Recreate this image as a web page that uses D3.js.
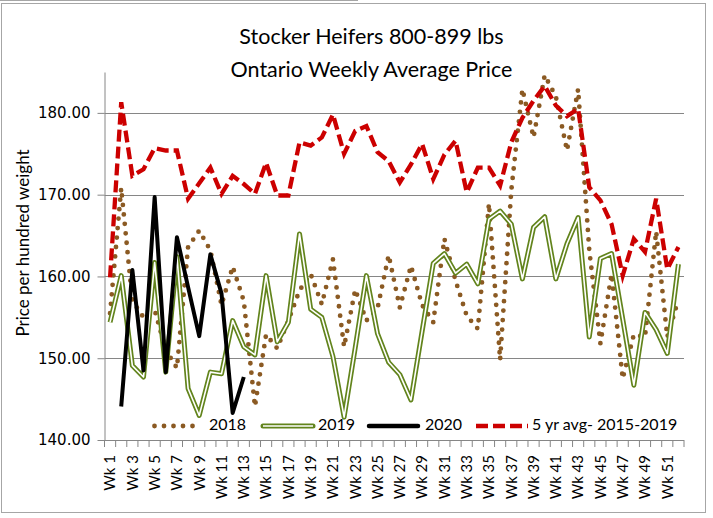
<!DOCTYPE html>
<html lang="en">
<head>
    <meta charset="UTF-8">
    <title>Stocker Heifers 800-899 lbs</title>
    <script src="https://d3js.org/d3.v7.min.js"></script>
    <style>
        body { margin: 0; background: #fff; }
        svg { font-family: Lato, "Open Sans", sans-serif; }
        .grid { stroke: #868686; stroke-width: 1px; }
        .axis path, .axis line { stroke: #868686; }
        .axis text { fill: #000; }
    </style>
</head>
<body>
    <svg width="713" height="518"></svg>

    <script>
        // weeks on the x axis
        const weeks = d3.range(1, 53).map(i => 'Wk ' + i);

        // weekly prices ($/cwt)
        const y2018 = [155.5, 170.8, 157.0, 155.0, 155.9, 151.0, 148.8, 163.6, 165.6, 163.2,
                       156.5, 161.2, 157.0, 144.1, 152.9, 151.2, 154.6, 158.3, 160.3, 156.6,
                       162.1, 151.4, 158.4, 154.6, 156.1, 162.6, 156.2, 161.3, 156.5, 154.4,
                       164.6, 159.5, 155.2, 153.6, 168.9, 149.8, 170.5, 182.9, 177.0, 184.6,
                       182.0, 175.4, 182.9, 163.2, 151.8, 160.3, 147.5, 152.9, 152.6, 165.5,
                       152.6, 157.2];
        const y2019 = [154.4, 160.1, 149.1, 147.7, 161.7, 148.3, 162.4, 146.3, 143.0, 148.3,
                       148.1, 154.6, 151.4, 150.4, 160.1, 152.0, 154.4, 165.2, 156.0, 155.0,
                       150.2, 142.8, 151.3, 160.1, 153.0, 149.5, 148.0, 144.9, 153.3, 161.6,
                       162.8, 160.4, 161.5, 159.1, 167.0, 168.0, 166.4, 159.7, 166.0, 167.3,
                       159.7, 164.0, 167.2, 152.6, 162.2, 162.8, 154.8, 146.7, 155.6, 153.5,
                       150.6, 161.5];
        // no sale in week 1 of 2020
        const y2020 = [null, 144.1, 160.8, 148.5, 169.7, 148.3, 164.8, 158.7, 152.7, 162.7,
                       157.9, 143.3, 147.7];
        const yAvg = [159.9, 181.3, 172.3, 173.1, 175.7, 175.4, 175.4, 169.5, 171.4, 173.3,
                      170.1, 172.3, 171.3, 170.1, 173.9, 169.9, 169.9, 176.4, 176.0, 177.0,
                      179.8, 175.0, 177.8, 178.4, 175.2, 174.1, 171.5, 173.7, 176.2, 171.9,
                      174.9, 176.6, 170.3, 173.3, 173.3, 171.1, 176.4, 179.4, 181.5, 183.3,
                      180.9, 179.6, 180.5, 170.9, 169.3, 166.4, 160.1, 164.6, 163.0, 169.5,
                      160.9, 163.6];

        const yTicks = [140, 150, 160, 170, 180];
        const seriesNames = ['2018', '2019', '2020', '5 yr avg- 2015-2019'];

        const svg = d3.select('svg');

        // outer frame
        svg.append('rect')
            .attr('x', 1.5).attr('y', 3.5)
            .attr('width', 704).attr('height', 509)
            .attr('fill', 'none').attr('stroke', '#a6a6a6');
        svg.append('line')
            .attr('x1', 0).attr('x2', 358).attr('y1', 0.5).attr('y2', 0.5)
            .attr('stroke', '#a6a6a6');

        const plotLeft = 104.5, plotRight = 684, plotTop = 72, plotBottom = 440;

        const x = d3.scaleBand().domain(weeks).range([plotLeft, plotRight]);
        const y = d3.scaleLinear().domain([140, 185]).range([plotBottom, plotTop]);
        const cx = d => x(d) + x.bandwidth() / 2;

        // gridlines
        svg.append('g').selectAll('line')
            .data(yTicks.slice(1))
            .enter().append('line')
            .attr('class', 'grid')
            .attr('x1', plotLeft).attr('x2', plotRight)
            .attr('y1', d => Math.round(y(d)) + 0.5)
            .attr('y2', d => Math.round(y(d)) + 0.5);

        // y axis
        const yAxis = svg.append('g')
            .attr('class', 'axis')
            .attr('transform', `translate(${plotLeft},0)`)
            .call(d3.axisLeft(y).tickValues(yTicks).tickFormat(d3.format('.2f'))
                .tickSize(7).tickPadding(7).tickSizeOuter(0));
        yAxis.selectAll('text')
            .style('font-family', '"DejaVu Sans", sans-serif')
            .style('font-size', '15px');

        // x axis: line, a tick at every band edge, labels on odd weeks
        const xg = svg.append('g').attr('class', 'axis');
        xg.append('line')
            .attr('x1', plotLeft).attr('x2', plotRight)
            .attr('y1', plotBottom + 0.5).attr('y2', plotBottom + 0.5);
        xg.selectAll('.tk')
            .data(weeks.concat(['end']))
            .enter().append('line')
            .attr('class', 'tk')
            .attr('x1', d => d === 'end' ? plotRight : x(d))
            .attr('x2', d => d === 'end' ? plotRight : x(d))
            .attr('y1', plotBottom).attr('y2', plotBottom + 7);
        xg.selectAll('text')
            .data(weeks.filter((d, i) => i % 2 === 0))
            .enter().append('text')
            .attr('transform', d => `translate(${cx(d) + 1.5},455) rotate(-90)`)
            .attr('text-anchor', 'end')
            .attr('dominant-baseline', 'middle')
            .style('font-size', '15px')
            .text(d => d);

        // series lines
        const line = d3.line()
            .defined(d => d != null)
            .x((d, i) => cx(weeks[i]))
            .y(d => y(d));

        const g = svg.append('g').attr('fill', 'none');

        g.append('path')
            .attr('d', line(y2018))
            .attr('stroke', '#8b5a23')
            .attr('stroke-width', 4.8)
            .attr('stroke-linecap', 'round')
            .attr('stroke-dasharray', '0 9.5');

        g.append('path')
            .attr('d', line(y2019))
            .attr('stroke', '#62841c')
            .attr('stroke-width', 5)
            .attr('stroke-linejoin', 'round');
        g.append('path')
            .attr('d', line(y2019))
            .attr('stroke', '#fff')
            .attr('stroke-width', 1.6)
            .attr('stroke-linejoin', 'round');

        g.append('path')
            .attr('d', line(y2020))
            .attr('stroke', '#000')
            .attr('stroke-width', 4)
            .attr('stroke-linejoin', 'round');

        g.append('path')
            .attr('d', line(yAvg))
            .attr('stroke', '#cc0000')
            .attr('stroke-width', 4.3)
            .attr('stroke-dasharray', '12 5');

        // legend
        const legendY = 426;
        const legendItems = [
            { name: seriesNames[0], x0: 154.5, x1: 202, tx: 209 },
            { name: seriesNames[1], x0: 263, x1: 313, tx: 318 },
            { name: seriesNames[2], x0: 369, x1: 418, tx: 425 },
            { name: seriesNames[3], x0: 476, x1: 528, tx: 532 }
        ];
        const lg = svg.append('g');
        legendItems.forEach((it, i) => {
            const seg = () => lg.append('line')
                .attr('x1', it.x0).attr('x2', it.x1)
                .attr('y1', legendY).attr('y2', legendY);
            if (i === 0) {
                seg().attr('stroke', '#8b5a23').attr('stroke-width', 4.8)
                    .attr('stroke-linecap', 'round').attr('stroke-dasharray', '0 9.5');
            } else if (i === 1) {
                seg().attr('stroke', '#62841c').attr('stroke-width', 5).attr('stroke-linecap', 'round');
                seg().attr('stroke', '#fff').attr('stroke-width', 1.6);
            } else if (i === 2) {
                seg().attr('stroke', '#000').attr('stroke-width', 4.5).attr('stroke-linecap', 'round');
            } else {
                seg().attr('stroke', '#cc0000').attr('stroke-width', 4.5).attr('stroke-dasharray', '12 5');
            }
            lg.append('text')
                .attr('x', it.tx).attr('y', legendY)
                .attr('dominant-baseline', 'middle')
                .style('font-size', '16px')
                .text(it.name);
        });

        // titles
        svg.append('text')
            .attr('x', 371.5).attr('y', 44)
            .attr('text-anchor', 'middle')
            .style('font-size', '21.5px')
            .text('Stocker Heifers 800-899 lbs');
        svg.append('text')
            .attr('x', 371.5).attr('y', 77)
            .attr('text-anchor', 'middle')
            .style('font-size', '21.5px')
            .text('Ontario Weekly Average Price');

        svg.append('text')
            .attr('transform', 'translate(25,243) rotate(-90)')
            .attr('text-anchor', 'middle')
            .attr('dominant-baseline', 'middle')
            .style('font-size', '17px')
            .text('Price per hundred weight');
    </script>
</body>
</html>
